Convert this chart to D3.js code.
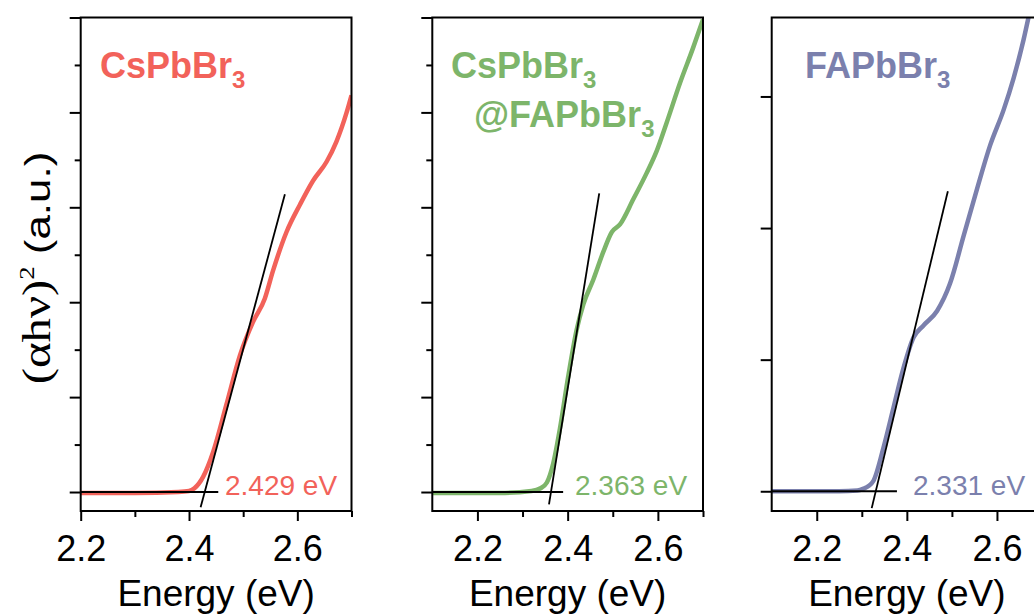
<!DOCTYPE html>
<html>
<head>
<meta charset="utf-8">
<script src="https://cdn.jsdelivr.net/npm/d3@7"></script>
<style>
  html, body { margin: 0; padding: 0; background: #fff; }
  svg { display: block; }
</style>
</head>
<body>
<svg id="chart" width="1034" height="615"></svg>
<script>
// ---------------- DATA ----------------
const xMajorTicks = [2.2, 2.4, 2.6];
const xMinorTicks = [2.1, 2.3, 2.5, 2.7];

// CsPbBr3 (red)
const redE = [2.20, 2.30, 2.38, 2.400, 2.410, 2.426, 2.445, 2.469, 2.494, 2.518, 2.540, 2.555, 2.580, 2.605, 2.629, 2.654, 2.672, 2.691, 2.700];
const redY = [-0.01, -0.01, 0.00, 0.01, 0.04, 0.16, 0.43, 0.92, 1.44, 1.79, 2.04, 2.33, 2.74, 3.03, 3.28, 3.48, 3.69, 4.00, 4.18];

// CsPbBr3@FAPbBr3 (green)
const greenE = [2.10, 2.25, 2.32, 2.340, 2.354, 2.368, 2.383, 2.401, 2.420, 2.435, 2.457, 2.479, 2.498, 2.516, 2.546, 2.575, 2.597, 2.620, 2.649, 2.678, 2.700];
const greenY = [-0.01, -0.01, 0.01, 0.04, 0.10, 0.30, 0.67, 1.21, 1.71, 1.98, 2.24, 2.53, 2.74, 2.82, 3.09, 3.36, 3.59, 3.90, 4.31, 4.68, 4.98];

// FAPbBr3 (blue)
const blueE = [2.10, 2.25, 2.29, 2.304, 2.315, 2.326, 2.348, 2.370, 2.392, 2.415, 2.437, 2.467, 2.496, 2.526, 2.556, 2.585, 2.615, 2.637, 2.659, 2.670];
const blueY = [0.00, 0.00, 0.005, 0.02, 0.04, 0.08, 0.33, 0.63, 0.93, 1.17, 1.26, 1.37, 1.58, 1.94, 2.30, 2.63, 2.90, 3.14, 3.43, 3.60];

// Tauc fits: band gap, slope, tangent extent, baseline extent
const gaps = [2.429, 2.363, 2.331];
const gapLabels = ["2.429 eV", "2.363 eV", "2.331 eV"];
const fitSlopes = [21.2, 29.4, 14.25];
const fitStart = [2.4214, 2.3586, 2.3220];
const fitEnd = [2.577, 2.470, 2.491];
const baseEnd = [2.454, 2.390, 2.378];

const xDomains = [[2.2, 2.7], [2.1, 2.7], [2.1, 2.7]];
const yDomains = [[-0.2, 5.0], [-0.2, 5.0], [-0.15, 3.6]];
const yMajorTicks = [[0, 1, 2, 3, 4, 5], [0, 1, 2, 3, 4, 5], [0, 1, 2, 3]];
const yMinorTicks = [[0.5, 1.5, 2.5, 3.5, 4.5], [0.5, 1.5, 2.5, 3.5, 4.5], []];

// ---------------- LAYOUT / STYLE ----------------
const colors = ["#f2625a", "#7db56a", "#7b80ad"];
const panelX = [[80.7, 351.5], [432.3, 703], [771.7, 1042]];
const gapLabelX = [225, 575, 913];
const plotTop = 17.5, plotBottom = 511;
const SANS = "Liberation Sans, Arial, sans-serif";
const SERIF = "Liberation Serif, Times New Roman, serif";

const svg = d3.select("#chart");
const defs = svg.append("defs");
const series = [
  {E: redE, Y: redY},
  {E: greenE, Y: greenY},
  {E: blueE, Y: blueY}
];

series.forEach((s, i) => {
  const [x0, x1] = panelX[i];
  const x = d3.scaleLinear().domain(xDomains[i]).range([x0, x1]);
  const y = d3.scaleLinear().domain(yDomains[i]).range([plotBottom, plotTop]);
  const g = svg.append("g");

  const clipId = "clip" + i;
  defs.append("clipPath").attr("id", clipId)
    .append("rect").attr("x", x0).attr("y", plotTop).attr("width", x1 - x0).attr("height", plotBottom - plotTop);

  // curve
  const line = d3.line().x(d => x(d[0])).y(d => y(d[1])).curve(d3.curveMonotoneX);
  g.append("path")
    .datum(s.E.map((e, k) => [e, s.Y[k]]))
    .attr("d", line)
    .attr("fill", "none")
    .attr("stroke", colors[i])
    .attr("stroke-width", 4.5)
    .attr("stroke-linejoin", "round")
    .attr("clip-path", `url(#${clipId})`);

  // tangent line
  const fitLine = d3.line().x(d => x(d[0])).y(d => y(d[1]));
  g.append("path")
    .datum([[fitStart[i], (fitStart[i] - gaps[i]) * fitSlopes[i]], [fitEnd[i], (fitEnd[i] - gaps[i]) * fitSlopes[i]]])
    .attr("d", fitLine).attr("fill", "none").attr("stroke", "#000").attr("stroke-width", 1.8);
  // baseline
  g.append("path")
    .datum([[xDomains[i][0], 0], [baseEnd[i], 0]])
    .attr("d", fitLine).attr("fill", "none").attr("stroke", "#000").attr("stroke-width", 1.8);

  // frame
  g.append("rect")
    .attr("x", x0).attr("y", plotTop).attr("width", x1 - x0).attr("height", plotBottom - plotTop)
    .attr("fill", "none").attr("stroke", "#000").attr("stroke-width", 2);

  // x axis major
  const xAxis = g.append("g").attr("transform", `translate(0,${plotBottom})`)
    .call(d3.axisBottom(x).tickValues(xMajorTicks).tickSize(10).tickSizeOuter(0).tickFormat(d3.format(".1f")));
  xAxis.select(".domain").remove();
  xAxis.selectAll(".tick line").attr("stroke-width", 2);
  xAxis.selectAll("text")
    .attr("y", 24).attr("dy", "0.71em")
    .attr("font-family", SANS)
    .attr("font-size", 36).attr("fill", "#000");
  // x axis minor
  const xMinor = g.append("g").attr("transform", `translate(0,${plotBottom})`)
    .call(d3.axisBottom(x).tickValues(xMinorTicks.filter(v => v > xDomains[i][0])).tickSize(6).tickSizeOuter(0).tickFormat(""));
  xMinor.select(".domain").remove();
  xMinor.selectAll(".tick line").attr("stroke-width", 2);

  // y axis major / minor
  const yAxis = g.append("g").attr("transform", `translate(${x0},0)`)
    .call(d3.axisLeft(y).tickValues(yMajorTicks[i]).tickSize(11).tickSizeOuter(0).tickFormat(""));
  yAxis.select(".domain").remove();
  yAxis.selectAll(".tick line").attr("stroke-width", 2);
  const yMinor = g.append("g").attr("transform", `translate(${x0},0)`)
    .call(d3.axisLeft(y).tickValues(yMinorTicks[i]).tickSize(6).tickSizeOuter(0).tickFormat(""));
  yMinor.select(".domain").remove();
  yMinor.selectAll(".tick line").attr("stroke-width", 2);

  // x title
  g.append("text")
    .attr("x", (x0 + x1) / 2).attr("y", 606)
    .attr("text-anchor", "middle")
    .attr("font-family", SANS)
    .attr("font-size", 37).attr("fill", "#000")
    .text("Energy (eV)");

  // gap label
  g.append("text")
    .attr("x", gapLabelX[i]).attr("y", 495)
    .attr("font-family", SANS)
    .attr("font-size", 28).attr("fill", colors[i])
    .text(gapLabels[i]);
});

// Panel labels
function chemLabel(xp, yp, parts, color) {
  const t = svg.append("text").attr("x", xp).attr("y", yp)
    .attr("font-family", SANS)
    .attr("font-weight", "bold").attr("font-size", 36).attr("fill", color);
  parts.forEach(p => {
    if (p.sub) {
      t.append("tspan").attr("font-size", 24).attr("dy", 10).text(p.t);
    } else {
      t.append("tspan").text(p.t);
    }
  });
}
chemLabel(100, 78, [{t: "CsPbBr"}, {t: "3", sub: true}], colors[0]);
chemLabel(451, 78, [{t: "CsPbBr"}, {t: "3", sub: true}], colors[1]);
chemLabel(474, 127, [{t: "@FAPbBr"}, {t: "3", sub: true}], colors[1]);
chemLabel(805, 78, [{t: "FAPbBr"}, {t: "3", sub: true}], colors[2]);

// Y axis title
const yt = svg.append("text")
  .attr("transform", "translate(50,268) rotate(-90) scale(1.22,1)")
  .attr("text-anchor", "middle")
  .attr("font-size", 36).attr("fill", "#000");
yt.append("tspan").attr("font-family", SERIF).attr("font-size", 40).text("(αhν)");
yt.append("tspan").attr("font-family", SERIF).attr("font-size", 22).attr("dy", -16).text("2");
yt.append("tspan").attr("font-family", SANS).attr("dy", 16).text("\u00a0(a.u.)");
</script>
</body>
</html>
